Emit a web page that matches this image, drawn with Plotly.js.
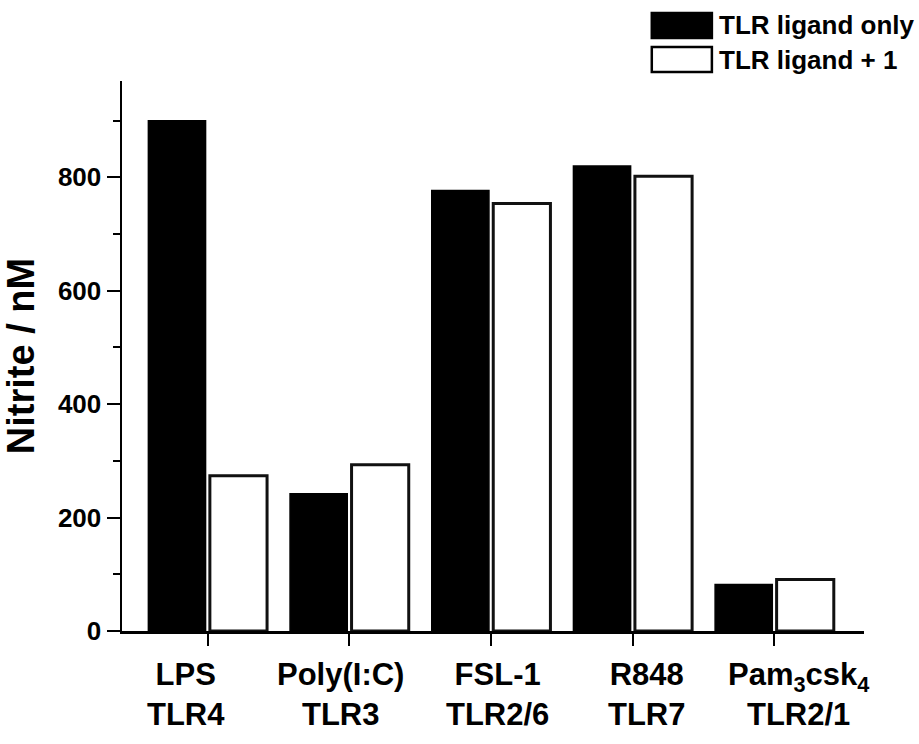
<!DOCTYPE html>
<html>
<head>
<meta charset="utf-8">
<script src="https://cdn.plot.ly/plotly-3.0.1.min.js"></script>
<style>html,body{margin:0;padding:0;background:#fff;}#chart{width:919px;height:744px;}</style>
</head>
<body>
<div id="chart"></div>
<script>
const categories = ['LPS<br>TLR4', 'Poly(I:C)<br>TLR3', 'FSL-1<br>TLR2/6', 'R848<br>TLR7', 'Pam<sub>3</sub>csk<sub>4</sub><br>TLR2/1'];
const seriesNames = ['TLR ligand only', 'TLR ligand + 1'];
const ligandOnly = [900, 242, 777, 820, 82];
const ligandPlus1 = [274, 293, 754, 802, 91];
const yTickVals = [0, 200, 400, 600, 800];
const yTickText = ['0', '200', '400', '600', '800'];

// style: horizontal nudges of category labels (px), as in the original figure
const labelNudge = [-22, -9, 6, 14, 24];

const FONT = '"Liberation Sans", Arial, Helvetica, sans-serif';

const traces = [
  {type: 'bar', name: seriesNames[0], x: categories, y: ligandOnly,
   marker: {color: '#000', line: {color: '#000', width: 1.5}}, showlegend: false, hoverinfo: 'y'},
  {type: 'bar', name: seriesNames[1], x: categories, y: ligandPlus1,
   marker: {color: '#fff', line: {color: '#111', width: 3}}, showlegend: false, hoverinfo: 'y'}
];

// legend drawn as paper-positioned swatches + text
const L = {x0: 0.714, x1: 0.795, tx: 0.802};
const rows = [{y0: 1.078, y1: 1.1236, ty: 1.101, fill: '#000'}, {y0: 1.0164, y1: 1.0618, ty: 1.039, fill: '#fff'}];
const shapes = rows.map(r => ({type: 'rect', xref: 'paper', yref: 'paper', x0: L.x0, x1: L.x1, y0: r.y0, y1: r.y1,
  fillcolor: r.fill, line: {color: '#000', width: 2.5}}));
const annotations = rows.map((r, i) => ({xref: 'paper', yref: 'paper', x: L.tx, y: r.ty, xanchor: 'left', yanchor: 'middle',
  text: '<b>' + seriesNames[i] + '</b>', showarrow: false, font: {family: FONT, size: 26, color: '#000'}}));

// category labels as annotations anchored to the category axis
categories.forEach((c, i) => {
  annotations.push({xref: 'x', yref: 'paper', x: c, y: 0, xanchor: 'center', yanchor: 'top',
    xshift: labelNudge[i], yshift: -24, text: '<b>' + c + '</b>', showarrow: false,
    font: {family: FONT, size: 31, color: '#000'}});
});

const layout = {
  width: 919, height: 744,
  margin: {l: 122, r: 55, t: 81, b: 113},
  paper_bgcolor: '#fff', plot_bgcolor: '#fff',
  barmode: 'group', bargap: 0.132, bargroupgap: 0.07,
  font: {family: FONT, color: '#000'},
  xaxis: {
    type: 'category', categoryorder: 'array', categoryarray: categories,
    range: [-0.605, 4.632], showgrid: false, zeroline: false,
    showline: true, linecolor: '#000', linewidth: 2.5,
    ticks: 'outside', ticklen: 12, tickwidth: 2, tickcolor: '#000',
    showticklabels: false,
    fixedrange: true
  },
  yaxis: {
    range: [0, 970], showgrid: false, zeroline: false,
    showline: true, linecolor: '#000', linewidth: 2.5,
    tickvals: yTickVals, ticktext: yTickText,
    ticks: 'outside', ticklen: 13, tickwidth: 2, tickcolor: '#000',
    minor: {dtick: 100, tick0: 0, ticks: 'outside', ticklen: 7, tickwidth: 2, tickcolor: '#000', showgrid: false},
    tickfont: {family: FONT, size: 26, color: '#000', weight: 'bold'},
    title: {text: '<b>Nitrite / nM</b>', font: {family: FONT, size: 38, color: '#000'}, standoff: 18},
    fixedrange: true
  },
  shapes: shapes,
  annotations: annotations
};

Plotly.newPlot('chart', traces, layout, {displayModeBar: false, staticPlot: true});
</script>
</body>
</html>
